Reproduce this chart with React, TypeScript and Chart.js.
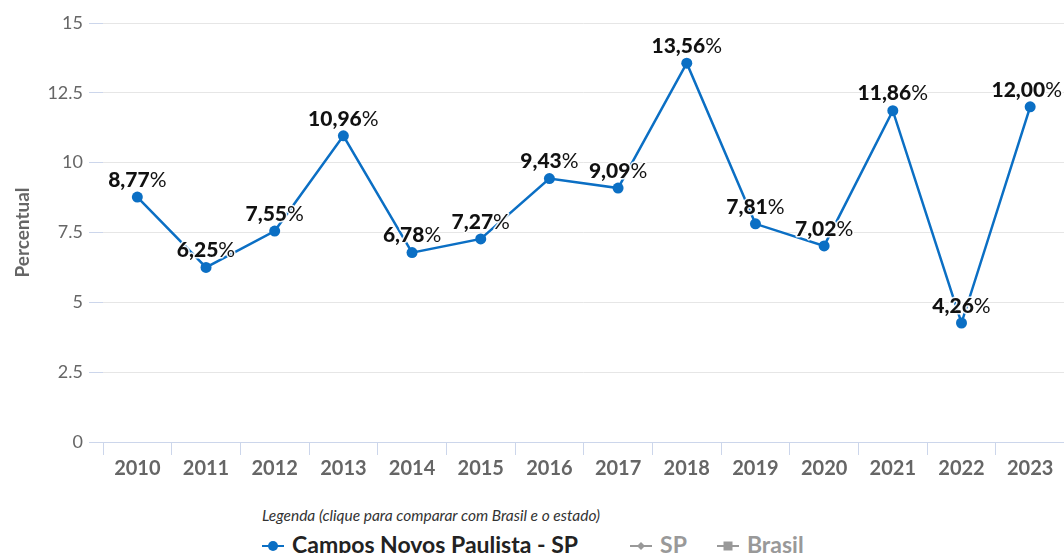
import React, { useEffect, useRef } from "react";
import { Chart, registerables } from "chart.js";

Chart.register(...registerables);

const categories = ["2010", "2011", "2012", "2013", "2014", "2015", "2016", "2017", "2018", "2019", "2020", "2021", "2022", "2023"];
const seriesValues = [8.77, 6.25, 7.55, 10.96, 6.78, 7.27, 9.43, 9.09, 13.56, 7.81, 7.02, 11.86, 4.26, 12.0];
const seriesName = "Campos Novos Paulista - SP";
const otherSeries = ["SP", "Brasil"];
const yTicks = [0, 2.5, 5, 7.5, 10, 12.5, 15];
const legendTitle = "Legenda (clique para comparar com Brasil e o estado)";

const BLUE = "#0b6fc4";
const FONT = "Lato, 'Open Sans', sans-serif";

const labelPlugin = {
  id: "pctLabels",
  afterDatasetsDraw(chart: any) {
    const ctx = chart.ctx;
    const meta = chart.getDatasetMeta(0);
    const data = chart.data.datasets[0].data as number[];
    ctx.save();
    ctx.textBaseline = "middle";
    ctx.textAlign = "left";
    meta.data.forEach((pt: any, i: number) => {
      const num = data[i].toFixed(2).replace(".", ",");
      const boldFont = `900 21px ${FONT}`;
      const normFont = `normal 21px ${FONT}`;
      ctx.font = boldFont;
      const w1 = ctx.measureText(num).width;
      ctx.font = normFont;
      const w2 = ctx.measureText("%").width;
      const total = w1 + w2;
      const x0 = Math.min(pt.x - total / 2, chart.width - 8 - total);
      const y = pt.y - 17;
      ctx.lineJoin = "round";
      ctx.strokeStyle = "rgba(255,255,255,0.9)";
      ctx.lineWidth = 3;
      ctx.font = boldFont;
      ctx.strokeText(num, x0, y);
      ctx.font = normFont;
      ctx.strokeText("%", x0 + w1, y);
      ctx.fillStyle = "#111";
      ctx.font = boldFont;
      ctx.fillText(num, x0, y);
      ctx.font = normFont;
      ctx.fillText("%", x0 + w1, y);
    });
    ctx.restore();
  },
};

function LegendMarker({ color, shape }: { color: string; shape: "circle" | "diamond" | "square" }) {
  return (
    <svg width="22" height="14" style={{ display: "inline-block", verticalAlign: "middle", marginRight: 8, position: "relative", top: -1 }}>
      <line x1="0" y1="7" x2="22" y2="7" stroke={color} strokeWidth="2" />
      {shape === "circle" && <circle cx="11" cy="7" r="5" fill={color} />}
      {shape === "diamond" && <polygon points="11,3 15,7 11,11 7,7" fill={color} />}
      {shape === "square" && <rect x="6.5" y="2.5" width="9" height="9" fill={color} />}
    </svg>
  );
}

export default function App() {
  const canvasRef = useRef<HTMLCanvasElement | null>(null);

  useEffect(() => {
    if (!canvasRef.current) return;
    const chart = new Chart(canvasRef.current, {
      type: "line",
      data: {
        labels: categories,
        datasets: [
          {
            label: seriesName,
            data: seriesValues,
            borderColor: BLUE,
            backgroundColor: BLUE,
            borderWidth: 2.5,
            pointRadius: 5.5,
            pointHoverRadius: 5.5,
            pointBackgroundColor: BLUE,
            pointBorderWidth: 0,
            tension: 0,
          },
        ],
      },
      options: {
        animation: false,
        responsive: false,
        maintainAspectRatio: false,
        layout: { padding: { top: 23, right: 0, left: 0, bottom: 0 } },
        plugins: {
          legend: { display: false },
          tooltip: { enabled: false },
          title: { display: false },
        },
        scales: {
          x: {
            offset: true,
            grid: {
              offset: true,
              drawOnChartArea: false,
              tickColor: "#ccd6eb",
              tickLength: 13,
              lineWidth: 1,
            },
            border: { color: "#ccd6eb", width: 1 },
            ticks: {
              color: "#666666",
              font: { family: FONT, size: 20, weight: "bold" },
              padding: 2,
              maxRotation: 0,
              autoSkip: false,
            },
            afterFit(scale: any) {
              scale.height = 48;
            },
          },
          y: {
            min: 0,
            max: 15,
            afterBuildTicks(scale: any) {
              scale.ticks = yTicks.map((v) => ({ value: v }));
            },
            grid: {
              color: "#e6e6e6",
              tickColor: "#ccd6eb",
              tickLength: 14,
              lineWidth: 1,
            },
            border: { display: false },
            ticks: {
              color: "#666666",
              font: { family: FONT, size: 18 },
              padding: 6,
              callback: (v: any) => String(v),
            },
            title: {
              display: true,
              text: "Percentual",
              color: "#666666",
              font: { family: FONT, size: 19, weight: "bold" },
              padding: { top: 11, bottom: 0 },
            },
            afterFit(scale: any) {
              scale.width = 103;
            },
          },
        },
      },
      plugins: [labelPlugin],
    });
    return () => chart.destroy();
  }, []);

  return (
    <div style={{ position: "absolute", left: 0, top: 0, width: 1064, height: 553, overflow: "hidden", background: "#fff", fontFamily: FONT }}>
      <canvas ref={canvasRef} width={1070} height={490} style={{ display: "block", width: 1070, height: 490 }} />
      <div style={{ position: "absolute", left: 262, top: 506, fontSize: 15.5, fontStyle: "italic", color: "#333", whiteSpace: "nowrap" }}>
        {legendTitle}
      </div>
      <div style={{ position: "absolute", left: 262, top: 530, fontSize: 23, fontWeight: "bold", whiteSpace: "nowrap", lineHeight: "28px" }}>
        <span style={{ color: "#222" }}>
          <LegendMarker color={BLUE} shape="circle" />
          {seriesName}
        </span>
        <span style={{ color: "#999", marginLeft: 52 }}>
          <LegendMarker color="#999" shape="diamond" />
          {otherSeries[0]}
        </span>
        <span style={{ color: "#999", marginLeft: 30 }}>
          <LegendMarker color="#999" shape="square" />
          {otherSeries[1]}
        </span>
      </div>
    </div>
  );
}
